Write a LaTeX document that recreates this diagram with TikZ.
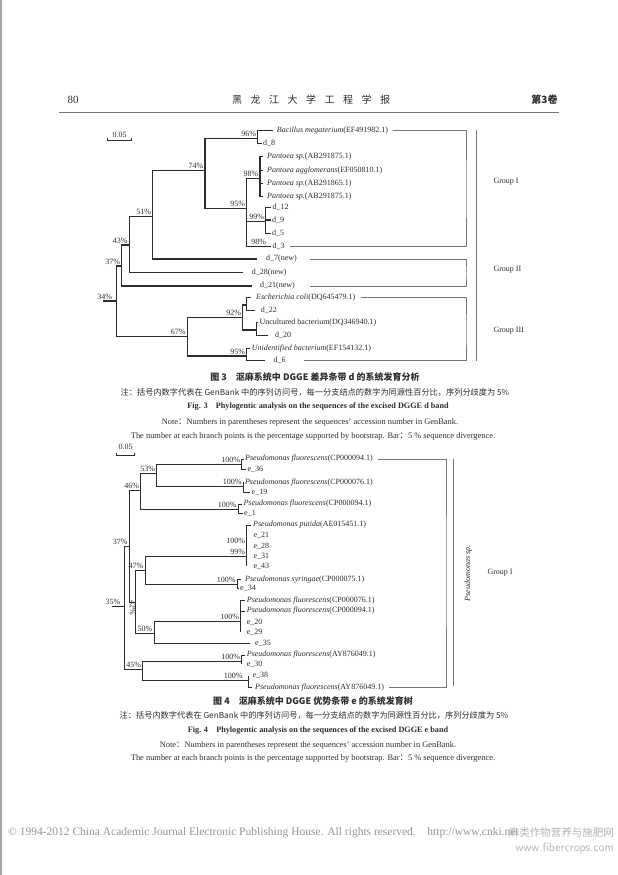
\documentclass[tikz,border=0pt]{standalone}
\usepackage{fontspec}
\setmainfont{Liberation Serif}
\newfontfamily\cjk{Noto Sans CJK SC}
\usetikzlibrary{positioning}
\definecolor{ink}{RGB}{45,45,45}
\definecolor{branchgray}{RGB}{45,45,45}
\definecolor{boxgray}{RGB}{120,120,120}
\definecolor{footgray}{RGB}{150,150,150}
\definecolor{markgray}{RGB}{180,180,180}

\begin{document}
\begin{tikzpicture}[x=1pt, y=-1pt,
    leaf/.style={anchor=west, inner xsep=1.5pt, inner ysep=0.5pt, text=ink, font=\fontsize{8}{9}\selectfont},
    boot/.style={anchor=south east, inner sep=0.5pt, xshift=-1pt, yshift=1pt, text=ink, font=\fontsize{8}{9}\selectfont},
    branch/.style={draw=branchgray, line width=1.2pt},
    thinbranch/.style={draw=branchgray, line width=0.9pt},
    grp/.style={draw=boxgray, line width=0.8pt},
    grplabel/.style={anchor=west, text=ink, font=\fontsize{8}{9}\selectfont},
    capzh/.style={text=ink, inner sep=0pt, font=\cjk\fontsize{8.2}{9}\selectfont},
    capen/.style={text=ink, inner sep=0pt, font=\fontsize{8.4}{9}\selectfont}]

\fill[white] (0,0) rectangle (618,875);
\useasboundingbox (0,0) rectangle (618,875);
\fill[black!35] (0,0) rectangle (2,875);

\node[text=ink, font=\fontsize{11}{12}\selectfont] (pageno) at (73,99.5) {80};
\node[text=ink, font=\cjk\fontsize{10}{12}\selectfont] (journal) at (311,99.5)
  {黑\hspace{8.5pt}龙\hspace{8.5pt}江\hspace{8.5pt}大\hspace{8.5pt}学\hspace{8.5pt}工\hspace{8.5pt}程\hspace{8.5pt}学\hspace{8.5pt}报};
\node[text=ink, font=\cjk\bfseries\fontsize{10}{12}\selectfont] (volume) at (544.5,99.5) {第3卷};
\coordinate (ruleL) at (59,112);
\coordinate (ruleR) at (559,112);
\draw[boxgray, line width=0.9pt] (ruleL) -- (ruleR);

\coordinate (sbA) at (107.3,140.7);
\coordinate (sbB) at (131.7,140.7);
\draw[branch] ([yshift=2.5pt]sbA) -- (sbA) -- (sbB) -- ([yshift=2.5pt]sbB);
\node[capen, font=\fontsize{8}{9}\selectfont] (sbtxt) at (119.5,134.5) {0.05};

\coordinate (r1) at (103.3,301);
\coordinate (n34) at (116.7,301);
\coordinate (n37) at (121.7,266);
\coordinate (n43) at (129.3,245);
\coordinate (n51) at (152.7,216.7);
\coordinate (n74) at (205,170.7);
\coordinate (n96) at (257.7,138.3);
\coordinate (n98) at (260,178.7);
\coordinate (n95) at (246.7,208.3);
\coordinate (n99) at (265.7,221.7);
\coordinate (n67) at (187.3,336.7);
\coordinate (n92) at (242.7,317.7);
\coordinate (nEc) at (246.7,305);
\coordinate (nUb) at (256.7,330);
\coordinate (n95b) at (246.7,356);

\node[leaf, inner xsep=4pt] (bmeg) at (272.7,130.7) {\textit{Bacillus megaterium}(EF491982.1)};
\node[leaf] (d8) at (261.5,143.3) {d\_8};
\node[leaf, inner xsep=4pt] (pant1) at (263,156.7) {\textit{Pantoea sp.}(AB291875.1)};
\node[leaf, inner xsep=4pt] (pant2) at (263,170.7) {\textit{Pantoea agglomerans}(EF050810.1)};
\node[leaf, inner xsep=4pt] (pant3) at (263,183.3) {\textit{Pantoea sp.}(AB291865.1)};
\node[leaf, inner xsep=4pt] (pant4) at (263,196.3) {\textit{Pantoea sp.}(AB291875.1)};
\node[leaf] (d12) at (271,207.3) {d\_12};
\node[leaf] (d9) at (270.5,220) {d\_9};
\node[leaf] (d5) at (270.5,233.3) {d\_5};
\node[leaf] (d3) at (271,246.3) {d\_3};
\node[leaf, inner xsep=9.3pt] (d7) at (256.7,259) {d\_7(new)};
\node[leaf, inner xsep=8.4pt] (d28) at (243.3,272.7) {d\_28(new)};
\node[leaf, inner xsep=7.7pt] (d21) at (252.3,286) {d\_21(new)};
\node[leaf, inner xsep=5.3pt] (ecoli) at (250.7,297.3) {\textit{Escherichia coli}(DQ645479.1)};
\node[leaf, inner xsep=5.7pt] (d22) at (255,310.3) {d\_22};
\node[leaf] (unc) at (257.8,322.7) {Uncultured bacterium(DQ346940.1)};
\node[leaf, inner xsep=6.7pt] (d20) at (268.3,335.7) {d\_20};
\node[leaf] (unid) at (250.2,348.3) {\textit{Unidentified bacterium}(EF154132.1)};
\node[leaf, inner xsep=8.3pt] (d6) at (265,360.7) {d\_6};

\draw[branch] (r1) -- (n34) (n34) |- (n37) (n34) |- (n67)
  (n37) |- (n43) (n37) |- (d21.west)
  (n43) |- (n51) (n43) |- (d28.west)
  (n51) |- (n74) (n51) |- (d7.west)
  (n74) |- (n96) (n74) |- (n95)
  (n96) |- (bmeg.west) (n96) |- (d8.west)
  (n95) |- (n98) (n95) |- (n99) (n95) |- (d3.west)
  (n98) |- (pant1.west) (n98) |- (pant2.west) (n98) |- (pant3.west) (n98) |- (pant4.west)
  (n99) |- (d12.west) (n99) |- (d9.west) (n99) |- (d5.west)
  (n67) |- (n92) (n67) |- (n95b)
  (n92) |- (nEc) (n92) |- (nUb)
  (nEc) |- (ecoli.west) (nEc) |- (d22.west)
  (nUb) |- (unc.west) (nUb) |- (d20.west)
  (n95b) |- (unid.west) (n95b) |- (d6.west);

\node[boot, xshift=-3pt] (b34) at (n34) {34\%};
\node[boot] (b37) at (n37) {37\%};
\node[boot] (b43) at (n43) {43\%};
\node[boot] (b51) at (n51) {51\%};
\node[boot] (b74) at (n74) {74\%};
\node[boot] (b96) at (n96) {96\%};
\node[boot] (b98) at (n98) {98\%};
\node[boot] (b95) at (n95) {95\%};
\node[boot] (b99) at (n99) {99\%};
\node[boot, xshift=21pt] (b98c) at (d3.west -| n95) {98\%};
\node[boot] (b67) at (n67) {67\%};
\node[boot] (b92) at (n92) {92\%};
\node[boot] (b95b) at (n95b) {95\%};

\coordinate (g1) at (466,190);
\coordinate (g2) at (466,272);
\coordinate (g3) at (466,330);
\draw[grp] ([xshift=1pt]bmeg.east) -| (g1) |- ([xshift=4pt]d3.east);
\draw[grp] ([xshift=4pt]d7.east) -| (g2) |- ([xshift=7pt]d21.east);
\draw[grp] (ecoli.east) -| (g3) |- ([xshift=10pt]d6.east);
\coordinate (v1t) at (476,130);
\coordinate (v1b) at (476,361);
\draw[grp] (v1t) -- (v1b);
\node[grplabel] (grp1) at (490,181.7) {Group I};
\node[grplabel] (grp2) at (490,270) {Group II};
\node[grplabel] (grp3) at (490,330.7) {Group III};

\node[capzh, font=\cjk\bfseries\fontsize{9}{10}\selectfont] (cap3zh) at (315,377) {图 3\quad 沤麻系统中 DGGE 差异条带 d 的系统发育分析};
\node[capzh] (note3zh) at (315,392) {注：括号内数字代表在 GenBank 中的序列访问号，每一分支结点的数字为同源性百分比，序列分歧度为 5\%};
\node[capen, font=\bfseries\fontsize{8.2}{9}\selectfont] (cap3en) at (318,407) {Fig. 3\quad Phylogentic analysis on the sequences of the excised DGGE d band};
\node[capen] (note3a) at (310,422) {Note{\cjk ：}Numbers in parentheses represent the sequences' accession number in GenBank.};
\node[capen] (note3b) at (313,436) {The number at each branch points is the percentage supported by bootstrap. Bar{\cjk ：}5 \% sequence divergence.};

\coordinate (sbC) at (116.7,455);
\coordinate (sbD) at (134.3,455);
\draw[thinbranch] ([yshift=2.5pt]sbC) -- (sbC) -- (sbD) -- ([yshift=2.5pt]sbD);
\node[capen, font=\fontsize{8}{9}\selectfont] (sbtxt2) at (125.5,446.7) {0.05};

\coordinate (r2) at (111.7,606.7);
\coordinate (m35) at (124,606.7);
\coordinate (m37) at (129.3,546.7);
\coordinate (m46) at (140.7,490);
\coordinate (m53) at (156.7,473.3);
\coordinate (m100a) at (241.7,464.3);
\coordinate (m100b) at (243.3,486.7);
\coordinate (m100c) at (238.3,509);
\coordinate (m42) at (135.7,602);
\coordinate (m47) at (145,570.7);
\coordinate (m99) at (246.7,556.7);
\coordinate (m100e) at (237.3,584);
\coordinate (m50) at (154,633.3);
\coordinate (m100f) at (240.7,621);
\coordinate (m45) at (142.7,669.3);
\coordinate (m100g) at (241.7,661);
\coordinate (m100h) at (248.3,680.7);

\node[leaf] (pfA) at (243.5,459) {\textit{Pseudomonas fluorescens}(CP000094.1)};
\node[leaf] (e36) at (245.8,469.3) {e\_36};
\node[leaf] (pfB) at (243.3,482.3) {\textit{Pseudomonas fluorescens}(CP000076.1)};
\node[leaf] (e19) at (250,492.3) {e\_19};
\node[leaf] (pfC) at (241.8,504) {\textit{Pseudomonas fluorescens}(CP000094.1)};
\node[leaf] (e1) at (242.5,513.3) {e\_1};
\node[leaf, inner xsep=2pt] (putida) at (251,525) {\textit{Pseudomonas putida}(AE015451.1)};
\node[leaf, inner xsep=6.6pt] (e21) at (246.7,535) {e\_21};
\node[leaf, inner xsep=6.6pt] (e28) at (246.7,546) {e\_28};
\node[leaf, inner xsep=6.6pt] (e31) at (246.7,556.7) {e\_31};
\node[leaf, inner xsep=6.6pt] (e43) at (246.7,566) {e\_43};
\node[leaf, inner xsep=4pt] (syr) at (241,579.3) {\textit{Pseudomonas syringae}(CP000075.1)};
\node[leaf] (e34) at (238.5,588.3) {e\_34};
\node[leaf, inner xsep=2pt] (pfD) at (244.7,600.7) {\textit{Pseudomonas fluorescens}(CP000076.1)};
\node[leaf, inner xsep=2pt] (pfE) at (244.7,611) {\textit{Pseudomonas fluorescens}(CP000094.1)};
\node[leaf, inner xsep=6pt] (e20) at (240.7,622.3) {e\_20};
\node[leaf, inner xsep=6pt] (e29) at (240.7,632.3) {e\_29};
\node[leaf, inner xsep=5pt] (e35) at (250,643.3) {e\_35};
\node[leaf] (pfF) at (245.2,655) {\textit{Pseudomonas fluorescens}(AY876049.1)};
\node[leaf, inner xsep=5pt] (e30) at (241.7,664.3) {e\_30};
\node[leaf, inner xsep=4pt] (e38) at (248.3,675.7) {e\_38};
\node[leaf, inner xsep=3.3pt] (pfG) at (251.7,687.3) {\textit{Pseudomonas fluorescens}(AY876049.1)};

\draw[thinbranch] (r2) -- (m35) (m35) |- (m37) (m35) |- (m45)
  (m37) |- (m46) (m37) |- (m42)
  (m46) |- (m53) (m46) |- (m100c)
  (m53) |- (m100a) (m53) |- (m100b)
  (m100a) |- (pfA.west) (m100a) |- (e36.west)
  (m100b) |- (pfB.west) (m100b) |- (e19.west)
  (m100c) |- (pfC.west) (m100c) |- (e1.west)
  (m42) |- (m47) (m42) |- (m50)
  (m47) |- (m99) (m47) |- (m100e)
  (m99) |- (putida.west) (m99) |- (e21.west) (m99) |- (e28.west) (m99) |- (e31.west) (m99) |- (e43.west)
  (m100e) |- (syr.west) (m100e) |- (e34.west)
  (m50) |- (m100f) (m50) |- (e35.west)
  (m100f) |- (pfD.west) (m100f) |- (pfE.west) (m100f) |- (e20.west) (m100f) |- (e29.west)
  (m45) |- (m100g) (m45) |- (m100h)
  (m100g) |- (pfF.west) (m100g) |- (e30.west)
  (m100h) |- (e38.west) (m100h) |- (pfG.west);

\node[boot, xshift=-2pt] (c35) at (m35) {35\%};
\node[boot] (c37) at (m37) {37\%};
\node[boot] (c46) at (m46) {46\%};
\node[boot] (c53) at (m53) {53\%};
\node[boot] (c100a) at (m100a) {100\%};
\node[boot] (c100b) at (m100b) {100\%};
\node[boot] (c100c) at (m100c) {100\%};
\node[text=ink, font=\fontsize{8}{9}\selectfont, rotate=-90, inner sep=0pt] (c42) at (132.5,608.3) {42\%};
\node[boot] (c47) at (m47) {47\%};
\node[boot, yshift=11.5pt] (c100d) at (m99) {100\%};
\node[boot] (c99) at (m99) {99\%};
\node[boot] (c100e) at (m100e) {100\%};
\node[boot] (c50) at (m50) {50\%};
\node[boot] (c100f) at (m100f) {100\%};
\node[boot] (c45) at (m45) {45\%};
\node[boot] (c100g) at (m100g) {100\%};
\node[boot, xshift=-4pt] (c100h) at (m100h) {100\%};

\coordinate (g4) at (446,570);
\draw[grp] ([xshift=3.5pt]pfA.east) -| (g4) |- ([xshift=2pt]pfG.east);
\coordinate (v2t) at (453.3,459);
\coordinate (v2b) at (453.3,686);
\draw[grp] (v2t) -- (v2b);
\node[text=ink, font=\itshape\fontsize{8}{9}\selectfont, rotate=90] (pseudo) at (468.3,573.3) {Pseudomonas sp.};
\node[grplabel] (grp4) at (484,572.7) {Group I};

\node[capzh, font=\cjk\bfseries\fontsize{9}{10}\selectfont] (cap4zh) at (313,700.6) {图 4\quad 沤麻系统中 DGGE 优势条带 e 的系统发育树};
\node[capzh] (note4zh) at (314,715.4) {注：括号内数字代表在 GenBank 中的序列访问号，每一分支结点的数字为同源性百分比，序列分歧度为 5\%};
\node[capen, font=\bfseries\fontsize{8.2}{9}\selectfont] (cap4en) at (318,731) {Fig. 4\quad Phylogentic analysis on the sequences of the excised DGGE e band};
\node[capen] (note4a) at (308,745) {Note{\cjk ：}Numbers in parentheses represent the sequences' accession number in GenBank.};
\node[capen] (note4b) at (313,758.7) {The number at each branch points is the percentage supported by bootstrap. Bar{\cjk ：}5 \% sequence divergence.};

\node[anchor=west, text=footgray, inner sep=0pt, font=\fontsize{11.5}{13}\selectfont] (footer) at (8,833)
  {\copyright\ 1994-2012 China Academic Journal Electronic Publishing House. All rights reserved.\quad http://www.cnki.net};
\node[anchor=east, text=markgray, inner sep=0pt, font=\cjk\fontsize{10.5}{12}\selectfont] (mark1) at (614,832) {麻类作物营养与施肥网};
\node[anchor=east, text=markgray, inner sep=0pt, font=\sffamily\fontsize{12}{13}\selectfont] (mark2) at (614,848) {www.fibercrops.com};
\end{tikzpicture}
\end{document}
